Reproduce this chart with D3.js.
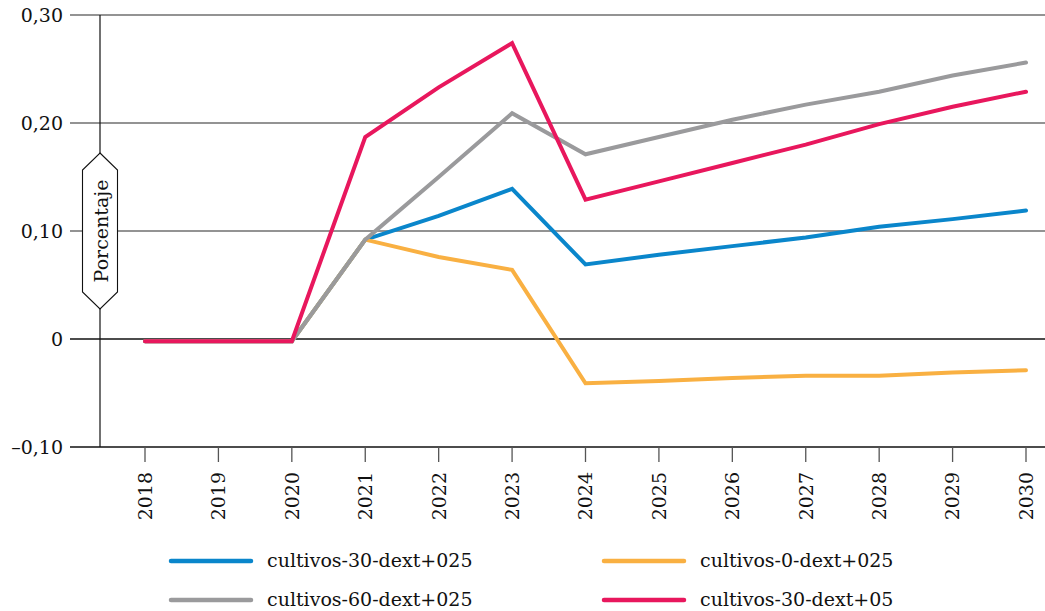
<!DOCTYPE html>
<html>
<head>
<meta charset="utf-8">
<script src="https://cdn.jsdelivr.net/npm/d3@7"></script>
<style>
  html, body { margin: 0; padding: 0; background: #fff; }
  svg { display: block; }
  text { font-family: "DejaVu Serif", serif; fill: #111; }
</style>
</head>
<body>
<svg id="chart" width="1045" height="611"></svg>
<script>
// Years on the horizontal axis
const years = [2018, 2019, 2020, 2021, 2022, 2023, 2024, 2025, 2026, 2027, 2028, 2029, 2030];

// Series values (percentage change)
const cultivos30dext025 = [-0.002, -0.002, -0.002, 0.092, 0.114, 0.139, 0.069, 0.078, 0.086, 0.094, 0.104, 0.111, 0.119];
const cultivos0dext025  = [-0.002, -0.002, -0.002, 0.092, 0.076, 0.064, -0.041, -0.039, -0.036, -0.034, -0.034, -0.031, -0.029];
const cultivos60dext025 = [-0.002, -0.002, -0.002, 0.092, 0.150, 0.209, 0.171, 0.187, 0.203, 0.217, 0.229, 0.244, 0.256];
const cultivos30dext05  = [-0.002, -0.002, -0.002, 0.187, 0.233, 0.274, 0.129, 0.146, 0.163, 0.180, 0.199, 0.215, 0.229];

const seriesNames = ["cultivos-30-dext+025", "cultivos-0-dext+025", "cultivos-60-dext+025", "cultivos-30-dext+05"];
const seriesColors = ["#0a86cb", "#f9b042", "#9a9a9c", "#e8175d"];

// Y axis ticks and labels
const yTicks = [-0.10, 0, 0.10, 0.20, 0.30];
const yTickLabels = ["\u20130,10", "0", "0,10", "0,20", "0,30"];
const yTitle = "Porcentaje";

const svg = d3.select("#chart");

const x = d3.scalePoint().domain(years).range([145, 1026]);
const y = d3.scaleLinear().domain([-0.10, 0.30]).range([447, 15]);

const gridLeft = 70, gridRight = 1045, axisX = 100;

// Horizontal grid lines
svg.append("g").selectAll("line")
  .data(yTicks)
  .join("line")
  .attr("x1", gridLeft).attr("x2", gridRight)
  .attr("y1", d => y(d)).attr("y2", d => y(d))
  .attr("stroke", d => (d === 0 || d === -0.10) ? "#111" : "#6f6f6f")
  .attr("stroke-width", 1.3);

// Y tick labels
svg.append("g").selectAll("text")
  .data(yTicks)
  .join("text")
  .attr("x", 63)
  .attr("y", d => y(d))
  .attr("dy", "0.35em")
  .attr("text-anchor", "end")
  .style("font-size", "19px")
  .text((d, i) => yTickLabels[i]);

// Vertical axis line
svg.append("line")
  .attr("x1", axisX).attr("x2", axisX)
  .attr("y1", y(0.30)).attr("y2", y(-0.10))
  .attr("stroke", "#111").attr("stroke-width", 1.2);

// X axis ticks and rotated year labels
const xAxis = svg.append("g");
xAxis.selectAll("line")
  .data(years)
  .join("line")
  .attr("x1", d => x(d)).attr("x2", d => x(d))
  .attr("y1", y(-0.10)).attr("y2", y(-0.10) + 15)
  .attr("stroke", "#555").attr("stroke-width", 1.3);
xAxis.selectAll("text")
  .data(years)
  .join("text")
  .attr("transform", d => `translate(${x(d)},472) rotate(-90)`)
  .attr("dy", "0.36em")
  .attr("text-anchor", "end")
  .style("font-size", "19px")
  .text(d => d);

// Lines
const series = [cultivos30dext025, cultivos0dext025, cultivos60dext025, cultivos30dext05];
const line = d3.line()
  .x((d, i) => x(years[i]))
  .y(d => y(d));

svg.append("g").selectAll("path")
  .data(series)
  .join("path")
  .attr("d", line)
  .attr("fill", "none")
  .attr("stroke", (d, i) => seriesColors[i])
  .attr("stroke-width", 4)
  .attr("stroke-linejoin", "miter")
  .attr("stroke-linecap", "round");

// Y title in a hexagonal label box
const yMid = (y(0.10) + y(0.10)) / 2;
const boxTop = 153, boxBottom = 309, half = 17.5, chamfer = 17;
svg.append("polygon")
  .attr("points", [
    [axisX, boxTop], [axisX + half, boxTop + chamfer], [axisX + half, boxBottom - chamfer],
    [axisX, boxBottom], [axisX - half, boxBottom - chamfer], [axisX - half, boxTop + chamfer]
  ].map(p => p.join(",")).join(" "))
  .attr("fill", "#fff")
  .attr("stroke", "#111")
  .attr("stroke-width", 1.1);
svg.append("text")
  .attr("transform", `translate(${axisX + 1},${(boxTop + boxBottom) / 2}) rotate(-90)`)
  .attr("dy", "0.36em")
  .attr("text-anchor", "middle")
  .style("font-size", "19px")
  .text(yTitle);

// Legend (two columns, two rows)
const legendPos = [[171, 561], [604, 561], [171, 600], [604, 600]];
const legend = svg.append("g").selectAll("g")
  .data(seriesNames)
  .join("g")
  .attr("transform", (d, i) => `translate(${legendPos[i][0]},${legendPos[i][1]})`);
legend.append("line")
  .attr("x1", 0).attr("x2", 80)
  .attr("y1", 0).attr("y2", 0)
  .attr("stroke", (d, i) => seriesColors[i])
  .attr("stroke-width", 4.5)
  .attr("stroke-linecap", "round");
legend.append("text")
  .attr("x", 96)
  .attr("y", 6)
  .style("font-size", "19px")
  .text(d => d);
</script>
</body>
</html>
